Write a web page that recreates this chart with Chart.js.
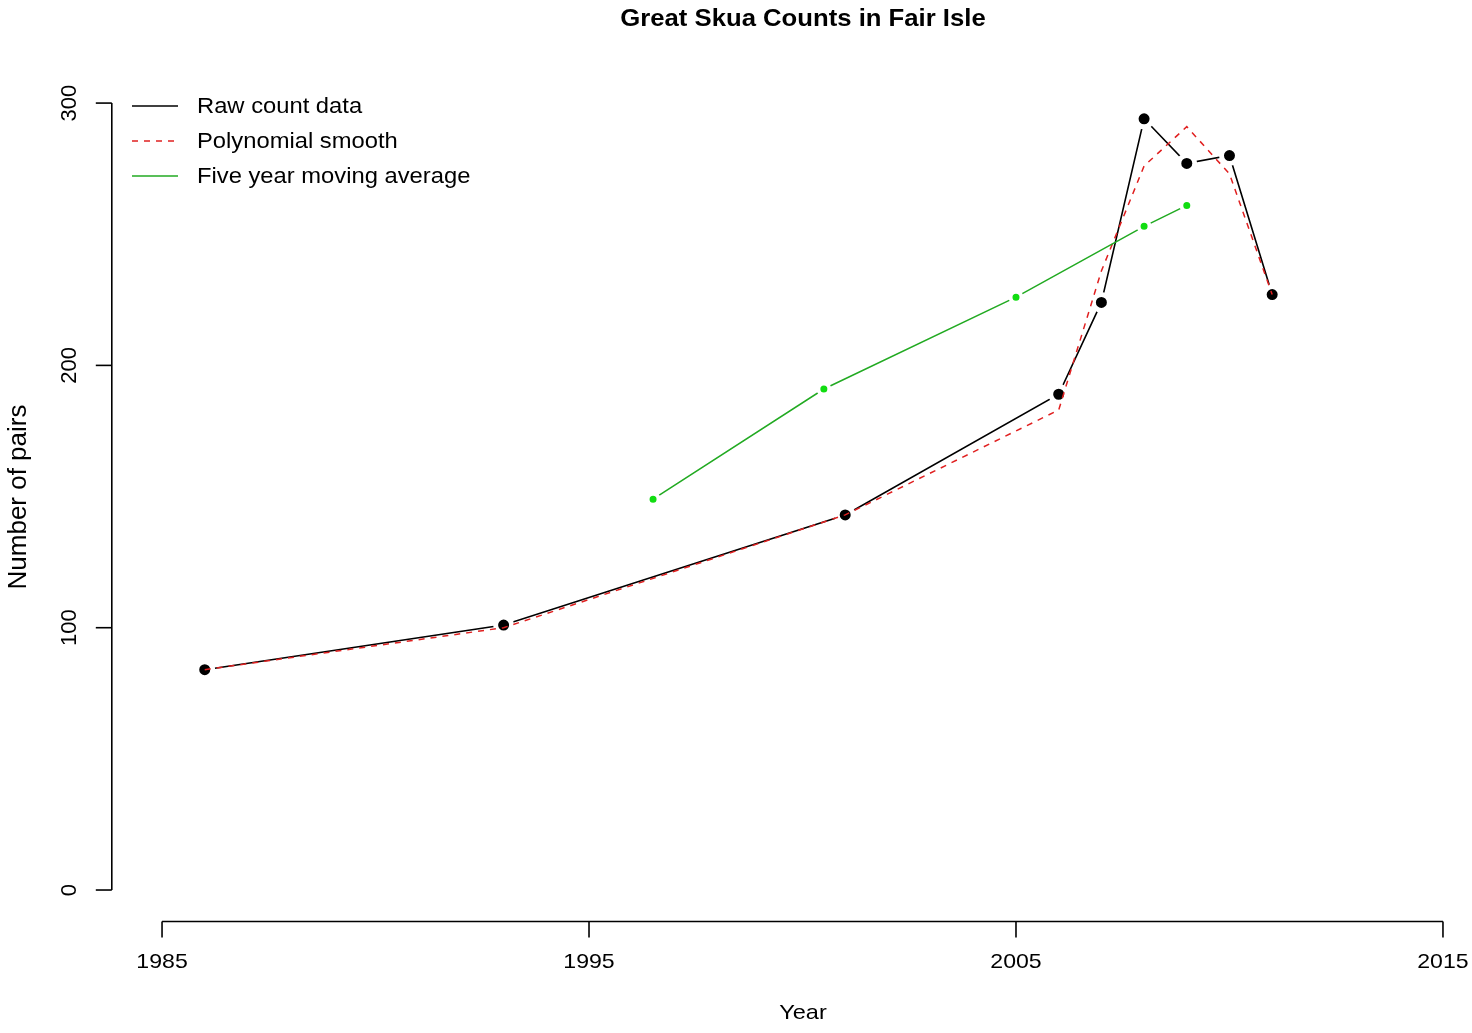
<!DOCTYPE html>
<html>
<head>
<meta charset="utf-8">
<script src="https://cdn.jsdelivr.net/npm/chart.js@4.4.1/dist/chart.umd.min.js"></script>
<style>
  html, body { margin: 0; padding: 0; background: #ffffff; overflow: hidden; }
  #wrap { width: 1472px; height: 1033px; }
</style>
</head>
<body>
<div id="wrap"><canvas id="c" width="1472" height="1033"></canvas></div>
<script>
// ---- data ----
const titleText = "Great Skua Counts in Fair Isle";
const xAxisTitle = "Year";
const yAxisTitle = "Number of pairs";
const years = [1986, 1993, 2001, 2006, 2007, 2008, 2009, 2010, 2011];
const rawCounts = [84, 101, 143, 189, 224, 294, 277, 280, 227];
const smoothValues = [84, 100, 143, 183, 236, 276, 291, 273, 227];
const maYears = [1996.5, 2000.5, 2005, 2008, 2009];
const maValues = [149, 191, 226, 253, 261];
const xTicks = [1985, 1995, 2005, 2015];
const yTicks = [0, 100, 200, 300];
const legendLabels = ["Raw count data", "Polynomial smooth", "Five year moving average"];

const FONT = "'Liberation Sans', Arial, Helvetica, sans-serif";

function pairs(xs, ys) { return xs.map((x, i) => ({ x: x, y: ys[i] })); }

// horizontal text with a slight horizontal stretch (reference text is wide)
function wideText(ctx, txt, x, y, sx) {
  ctx.save();
  ctx.translate(x, y);
  ctx.scale(sx, 1);
  ctx.fillText(txt, 0, 0);
  ctx.restore();
}

const axesPlugin = {
  id: 'rAxes',
  afterDraw(chart) {
    const ctx = chart.ctx;
    const xs = chart.scales.x, ys = chart.scales.y;
    const area = chart.chartArea;
    ctx.save();
    ctx.strokeStyle = '#000';
    ctx.fillStyle = '#000';
    ctx.lineWidth = 1.6;
    // x axis
    const xAxisY = area.bottom;
    ctx.beginPath();
    ctx.moveTo(xs.getPixelForValue(xTicks[0]), xAxisY);
    ctx.lineTo(xs.getPixelForValue(xTicks[xTicks.length - 1]), xAxisY);
    ctx.stroke();
    ctx.font = '21px ' + FONT;
    ctx.textAlign = 'center';
    ctx.textBaseline = 'middle';
    xTicks.forEach(t => {
      const px = xs.getPixelForValue(t);
      ctx.beginPath();
      ctx.moveTo(px, xAxisY);
      ctx.lineTo(px, xAxisY + 16);
      ctx.stroke();
      wideText(ctx, String(t), px, 962, 1.1);
    });
    // y axis
    const yAxisX = area.left + 1;
    ctx.beginPath();
    ctx.moveTo(yAxisX, ys.getPixelForValue(yTicks[0]));
    ctx.lineTo(yAxisX, ys.getPixelForValue(yTicks[yTicks.length - 1]));
    ctx.stroke();
    ctx.font = '22px ' + FONT;
    yTicks.forEach(t => {
      const py = ys.getPixelForValue(t);
      ctx.beginPath();
      ctx.moveTo(yAxisX, py);
      ctx.lineTo(yAxisX - 16, py);
      ctx.stroke();
      ctx.save();
      ctx.translate(70, py);
      ctx.rotate(-Math.PI / 2);
      ctx.fillText(String(t), 0, 0);
      ctx.restore();
    });
    // axis titles
    ctx.font = '21px ' + FONT;
    wideText(ctx, xAxisTitle, 803, 1013, 1.12);
    ctx.save();
    ctx.font = '26px ' + FONT;
    ctx.translate(19, 497);
    ctx.rotate(-Math.PI / 2);
    ctx.fillText(yAxisTitle, 0, 0);
    ctx.restore();
    // main title
    ctx.font = 'bold 24px ' + FONT;
    wideText(ctx, titleText, 803, 19, 1.07);
    // legend
    ctx.font = '22px ' + FONT;
    ctx.textAlign = 'left';
    const legY = [107, 142, 177];
    chart.data.datasets.forEach((ds, i) => {
      ctx.save();
      ctx.strokeStyle = ds.borderColor;
      ctx.lineWidth = ds.borderWidth;
      ctx.setLineDash(ds.borderDash || []);
      ctx.beginPath();
      ctx.moveTo(132, legY[i] - 1);
      ctx.lineTo(178, legY[i] - 1);
      ctx.stroke();
      ctx.restore();
      wideText(ctx, legendLabels[i], 197, legY[i], 1.08);
    });
    ctx.restore();
  }
};

new Chart(document.getElementById('c'), {
  type: 'line',
  data: {
    datasets: [
      {
        label: legendLabels[0],
        data: pairs(years, rawCounts),
        borderColor: '#000000',
        borderWidth: 1.6,
        pointRadius: 8,
        pointBorderWidth: 5,
        pointBackgroundColor: '#000000',
        pointBorderColor: '#ffffff',
        order: 3
      },
      {
        label: legendLabels[1],
        data: pairs(years, smoothValues),
        borderColor: '#e02020',
        borderWidth: 1.5,
        borderDash: [6, 6],
        pointRadius: 0,
        order: 2
      },
      {
        label: legendLabels[2],
        data: pairs(maYears, maValues),
        borderColor: '#22aa22',
        borderWidth: 1.5,
        pointRadius: 5.5,
        pointBorderWidth: 4,
        pointBackgroundColor: '#11dd11',
        pointBorderColor: '#ffffff',
        order: 1
      }
    ]
  },
  options: {
    responsive: false,
    animation: false,
    devicePixelRatio: 1,
    layout: { autoPadding: false, padding: { left: 110.8, right: 0, top: 71.6, bottom: 111.5 } },
    plugins: { legend: { display: false }, title: { display: false }, tooltip: { enabled: false } },
    elements: { line: { tension: 0 } },
    scales: {
      x: { type: 'linear', min: 1983.8, max: 2015.68, display: false },
      y: { type: 'linear', min: -12, max: 312, display: false }
    }
  },
  plugins: [axesPlugin]
});
</script>
</body>
</html>
